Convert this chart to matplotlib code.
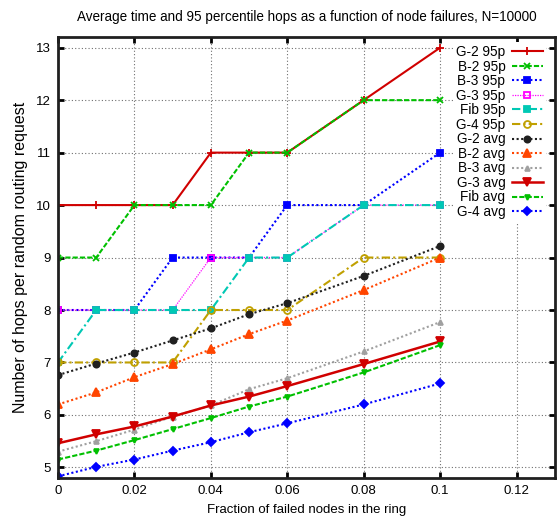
#!/usr/bin/env python3

import numpy as np
import matplotlib.pyplot as plt
from matplotlib.ticker import FuncFormatter

plt.rcParams.update({
    'font.family': 'Liberation Sans',
    'font.size': 9,
})

# fraction of failed nodes
x = [0, 0.01, 0.02, 0.03, 0.04, 0.05, 0.06, 0.08, 0.1]

# 95 percentile hops
g2_95 = [10, 10, 10, 10, 11, 11, 11, 12, 13]
b2_95 = [9, 9, 10, 10, 10, 11, 11, 12, 12]
b3_95 = [8, 8, 8, 9, 9, 9, 10, 10, 11]
g3_95 = [8, 8, 8, 8, 9, 9, 9, 10, 10]
fib_95 = [7, 8, 8, 8, 8, 9, 9, 10, 10]
g4_95 = [7, 7, 7, 7, 8, 8, 8, 9, 9]

# average hops
g2_avg = [6.76, 6.98, 7.19, 7.42, 7.65, 7.92, 8.13, 8.65, 9.22]
b2_avg = [6.20, 6.43, 6.72, 6.97, 7.25, 7.54, 7.80, 8.38, 9.00]
b3_avg = [5.30, 5.50, 5.72, 5.97, 6.18, 6.49, 6.70, 7.21, 7.77]
g3_avg = [5.46, 5.63, 5.78, 5.97, 6.18, 6.35, 6.55, 6.97, 7.40]
fib_avg = [5.15, 5.32, 5.52, 5.73, 5.94, 6.16, 6.35, 6.81, 7.33]
g4_avg = [4.83, 5.01, 5.15, 5.32, 5.48, 5.67, 5.84, 6.20, 6.60]

fig = plt.figure(figsize=(5.6, 5.24), dpi=100)
ax = fig.add_axes([0.1036, 0.088, 0.887, 0.841])

dot = (0, (1, 1.2))
dash = (0, (2.5, 1))
dashdot = (0, (4, 1.5, 1, 1.5))

# name, data, color, linestyle, marker, markersize, filled, linewidth
series = [
    ('G-2 95p', g2_95, '#d00000', '-', '+', 6, True, 1.5),
    ('B-2 95p', b2_95, '#00c000', dash, 'x', 5, True, 1.5),
    ('B-3 95p', b3_95, '#0000ff', dot, 's', 4.5, True, 1.5),
    ('G-3 95p', g3_95, '#ff00ff', (0, (1, 1)), 's', 5, False, 0.9),
    ('Fib 95p', fib_95, '#00c8b4', dashdot, 's', 5, True, 1.5),
    ('G-4 95p', g4_95, '#c0a000', dashdot, 'o', 5, False, 1.5),
    ('G-2 avg', g2_avg, '#202020', dot, 'o', 4.5, True, 1.5),
    ('B-2 avg', b2_avg, '#ff4500', dot, '^', 6, True, 1.5),
    ('B-3 avg', b3_avg, '#a0a0a0', dot, '^', 3.5, True, 1.5),
    ('G-3 avg', g3_avg, '#d00000', '-', 'v', 6, True, 1.8),
    ('Fib avg', fib_avg, '#00c000', dash, 'v', 3.5, True, 1.5),
    ('G-4 avg', g4_avg, '#0000ff', dot, 'D', 4.5, True, 1.5),
]

for name, y, c, ls, m, ms, filled, lw in series:
    ax.plot(x, y, color=c, linestyle=ls, linewidth=lw, marker=m, markersize=ms,
            markerfacecolor=c if filled else 'none', markeredgecolor=c,
            markeredgewidth=1.3, label=name)

ax.set_xlim(0, 0.13)
ax.set_ylim(4.8, 13.2)
ax.set_xticks(np.arange(0, 0.13, 0.02))
ax.set_yticks(range(5, 14))
ax.xaxis.set_major_formatter(FuncFormatter(lambda v, p: '0' if v == 0 else '%g' % v))
ax.grid(True, color='#707070', linestyle=(0, (1, 2)), linewidth=0.8)
ax.tick_params(direction='in', top=True, right=True, length=4, width=2,
               labelsize=9.5, pad=5)
for s in ax.spines.values():
    s.set_linewidth(2)
    s.set_color('#202020')

ax.set_title('Average time and 95 percentile hops as a function of node failures, N=10000',
             fontsize=9.75, pad=12)
ax.set_xlabel('Fraction of failed nodes in the ring', fontsize=9.5, labelpad=5)
ax.set_ylabel('Number of hops per random routing request', fontsize=11.5, labelpad=6)

# labels right-aligned next to the sample line (markerfirst=False)
leg = ax.legend(loc='upper right', bbox_to_anchor=(0.983, 0.99), markerfirst=False,
                frameon=True, fontsize=9.8, handlelength=2.3, labelspacing=0.04,
                borderaxespad=0, handletextpad=0.45, fancybox=False, borderpad=0.25)
leg.get_frame().set_edgecolor('none')
leg.get_frame().set_alpha(1.0)

plt.savefig('out.png', dpi=100)
plt.close()
